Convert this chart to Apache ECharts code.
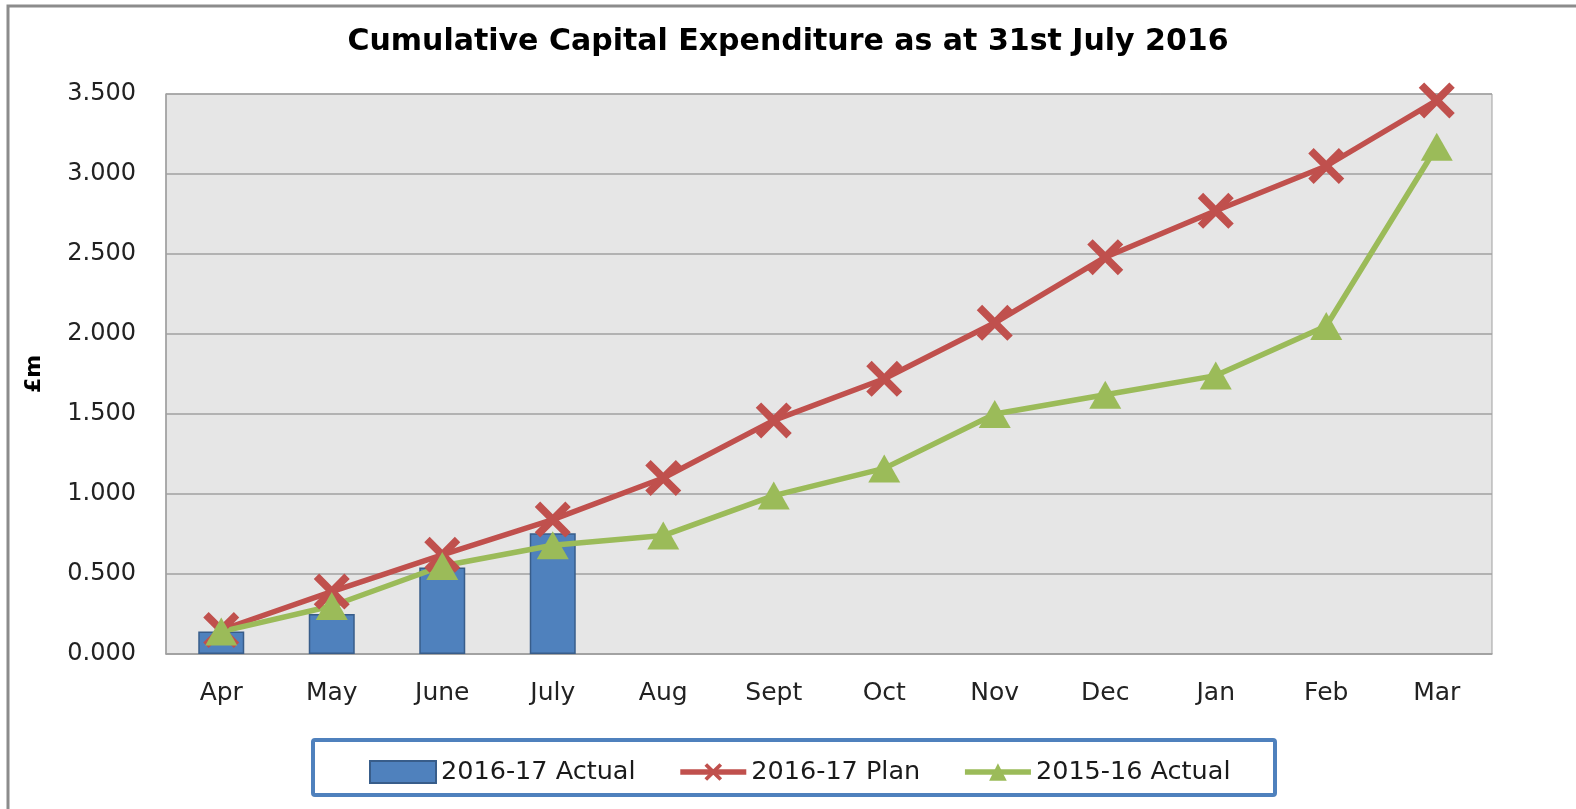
<!DOCTYPE html>
<html>
<head>
<meta charset="utf-8">
<title>Cumulative Capital Expenditure</title>
<script src="https://cdn.jsdelivr.net/npm/echarts@6/dist/echarts.min.js"></script>
<style>
  html, body { margin: 0; padding: 0; background: #fff; }
  #chart { width: 1576px; height: 809px; }
</style>
</head>
<body>
<div id="chart"></div>
<script>
// months of the financial year
const months = ['Apr', 'May', 'June', 'July', 'Aug', 'Sept', 'Oct', 'Nov', 'Dec', 'Jan', 'Feb', 'Mar'];

// £m, cumulative
const actual1617 = [0.14, 0.25, 0.54, 0.755];
const plan1617 = [0.15, 0.39, 0.62, 0.84, 1.10, 1.46, 1.72, 2.07, 2.48, 2.77, 3.05, 3.46];
const actual1516 = [0.14, 0.30, 0.55, 0.68, 0.74, 0.99, 1.16, 1.50, 1.62, 1.74, 2.05, 3.17];

const yTicks = { min: 0, max: 3.5, step: 0.5 };

const FONT = '"DejaVu Sans", sans-serif';
const crossPath = 'path://M3,0 L10,7 L17,0 L20,3 L13,10 L20,17 L17,20 L10,13 L3,20 L0,17 L7,10 L0,3 Z';

const chart = echarts.init(document.getElementById('chart'));

chart.setOption({
    animation: false,
    backgroundColor: '#fff',
    title: {
        text: 'Cumulative Capital Expenditure as at 31st July 2016',
        left: 'center',
        top: 22,
        textStyle: { fontFamily: FONT, fontSize: 30, fontWeight: 'bold', color: '#000' }
    },
    grid: {
        left: 166, top: 94, right: 84, bottom: 155,
        show: true,
        backgroundColor: '#E6E6E6',
        borderColor: '#A0A0A0',
        borderWidth: 1
    },
    legend: {
        left: 364,
        top: 754,
        itemWidth: 66,
        itemHeight: 22,
        itemGap: 42,
        textStyle: { fontFamily: FONT, fontSize: 25.5, color: '#1a1a1a' },
        data: [
            { name: '2016-17 Actual', icon: 'rect' },
            { name: '2016-17 Plan', lineStyle: { width: 5.5 } },
            { name: '2015-16 Actual', lineStyle: { width: 5.5 } }
        ]
    },
    xAxis: {
        type: 'category',
        data: months,
        axisTick: { show: false },
        axisLine: { lineStyle: { color: '#A0A0A0', width: 1.5 } },
        axisLabel: { fontFamily: FONT, fontSize: 25, color: '#222', margin: 27 }
    },
    yAxis: {
        type: 'value',
        min: yTicks.min,
        max: yTicks.max,
        interval: yTicks.step,
        axisLine: { show: true, lineStyle: { color: '#A0A0A0', width: 1.5 } },
        axisTick: { show: false },
        splitLine: { lineStyle: { color: '#A0A0A0', width: 1.5 } },
        axisLabel: {
            fontFamily: FONT, fontSize: 24, color: '#222', margin: 30,
            padding: [8, 0, 0, 0],
            formatter: v => v.toFixed(3)
        }
    },
    graphic: [
        {
            type: 'polyline',
            shape: { points: [[8, 809], [8, 6], [1576, 6]] },
            style: { stroke: '#8C8C8C', lineWidth: 3, fill: null }
        },
        {
            type: 'rect',
            shape: { x: 313, y: 740, width: 962, height: 55, r: 2 },
            style: { stroke: '#4F81BD', lineWidth: 4, fill: null },
            z: -1
        },
        {
            type: 'text',
            x: 34, y: 374,
            rotation: Math.PI / 2,
            style: {
                text: '£m', font: 'bold 22px "DejaVu Sans", sans-serif',
                fill: '#000', align: 'center', verticalAlign: 'middle'
            }
        }
    ],
    series: [
        {
            name: '2016-17 Actual',
            type: 'bar',
            data: actual1617,
            barWidth: 46,
            itemStyle: { color: '#4F81BD', borderColor: '#385D8A', borderWidth: 1.5 }
        },
        {
            name: '2016-17 Plan',
            type: 'line',
            data: plan1617,
            symbol: crossPath,
            symbolSize: 36,
            lineStyle: { color: '#C0504D', width: 5.5 },
            itemStyle: { color: '#C0504D' }
        },
        {
            name: '2015-16 Actual',
            type: 'line',
            data: actual1516,
            symbol: 'triangle',
            symbolSize: [32, 28],
            lineStyle: { color: '#9BBB59', width: 5.5 },
            itemStyle: { color: '#9BBB59' }
        }
    ]
});
</script>
</body>
</html>
